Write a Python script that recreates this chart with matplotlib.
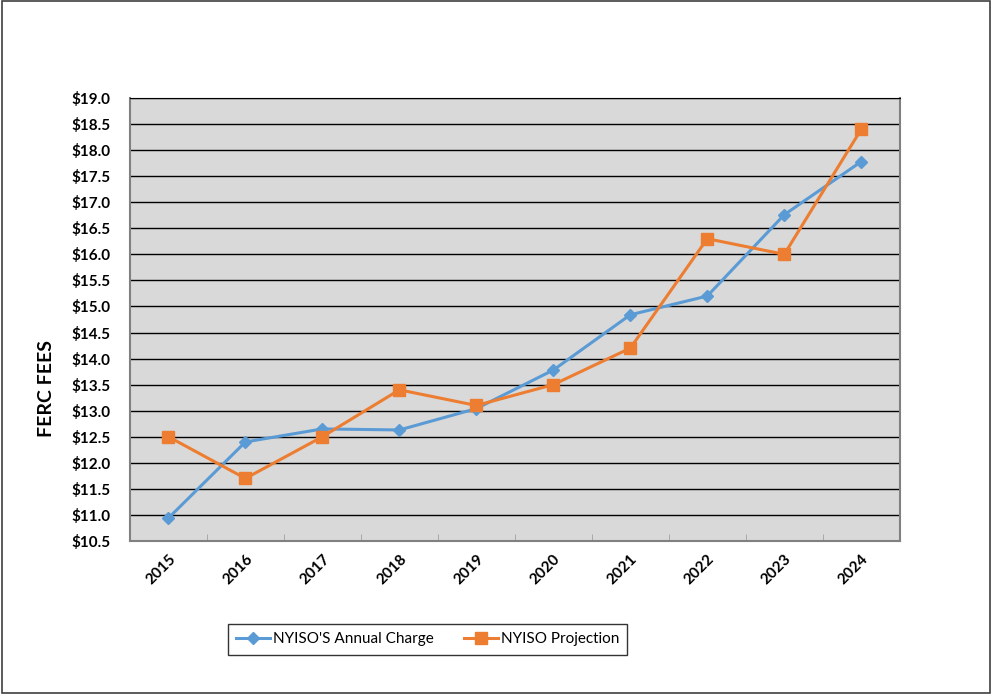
import matplotlib.pyplot as plt
from matplotlib.patches import Rectangle
import numpy as np

plt.rcParams['font.family'] = ['Lato', 'DejaVu Sans']

years = ['2015', '2016', '2017', '2018', '2019', '2020', '2021', '2022', '2023', '2024']
annual_charge = [10.94, 12.40, 12.65, 12.63, 13.04, 13.78, 14.84, 15.20, 16.76, 17.78]
projection = [12.5, 11.7, 12.5, 13.4, 13.1, 13.5, 14.2, 16.3, 16.0, 18.4]

fig = plt.figure(figsize=(9.92, 6.94), dpi=100)
ax = fig.add_axes([0.131, 0.2205, 0.776, 0.6383])
ax.set_facecolor('#d9d9d9')

x = np.arange(len(years))
ax.plot(x, annual_charge, color='#5b9bd5', lw=2.2, marker='D', markersize=6,
        label="NYISO'S Annual Charge")
ax.plot(x, projection, color='#ed7d31', lw=2.2, marker='s', markersize=8,
        label='NYISO Projection')

ax.set_ylim(10.5, 19.0)
ax.set_yticks(np.arange(10.5, 19.01, 0.5))
ax.set_yticklabels(['${:.1f}'.format(v) for v in np.arange(10.5, 19.01, 0.5)],
                   fontsize=11, fontweight='bold')
ax.set_xlim(-0.5, len(years) - 0.5)
ax.set_xticks(x)
ax.set_xticklabels(years, rotation=45, ha='right', rotation_mode='anchor',
                   fontsize=11, fontweight='bold')
ax.set_xticks(np.arange(-0.5, len(years), 1), minor=True)
ax.tick_params(axis='x', which='major', length=0, pad=8)
ax.tick_params(axis='x', which='minor', direction='in', length=5, color='#a0a0a0')
ax.tick_params(axis='y', length=0, pad=14)

ax.grid(axis='y', color='black', lw=1)
ax.set_axisbelow(True)
for s in ['left', 'bottom', 'right']:
    ax.spines[s].set_color('#808080')
    ax.spines[s].set_linewidth(1.5)
ax.spines['top'].set_color('black')

ax.set_ylabel('FERC FEES', fontsize=14, fontweight='bold')
ax.yaxis.set_label_coords(-0.097, 0.345)

leg = fig.legend(loc='center', bbox_to_anchor=(0.431, 0.079), ncol=2,
                 fontsize=11, frameon=True, fancybox=False, edgecolor='black',
                 handlelength=2.2, handletextpad=0.2, columnspacing=2.0,
                 borderpad=0.55, borderaxespad=0)
leg.get_frame().set_linewidth(1)

fig.patches.append(Rectangle((0.002, 0.002), 0.996, 0.996, transform=fig.transFigure,
                             fill=False, edgecolor='#404040', lw=1.2))

fig.savefig('out.png', dpi=100)
